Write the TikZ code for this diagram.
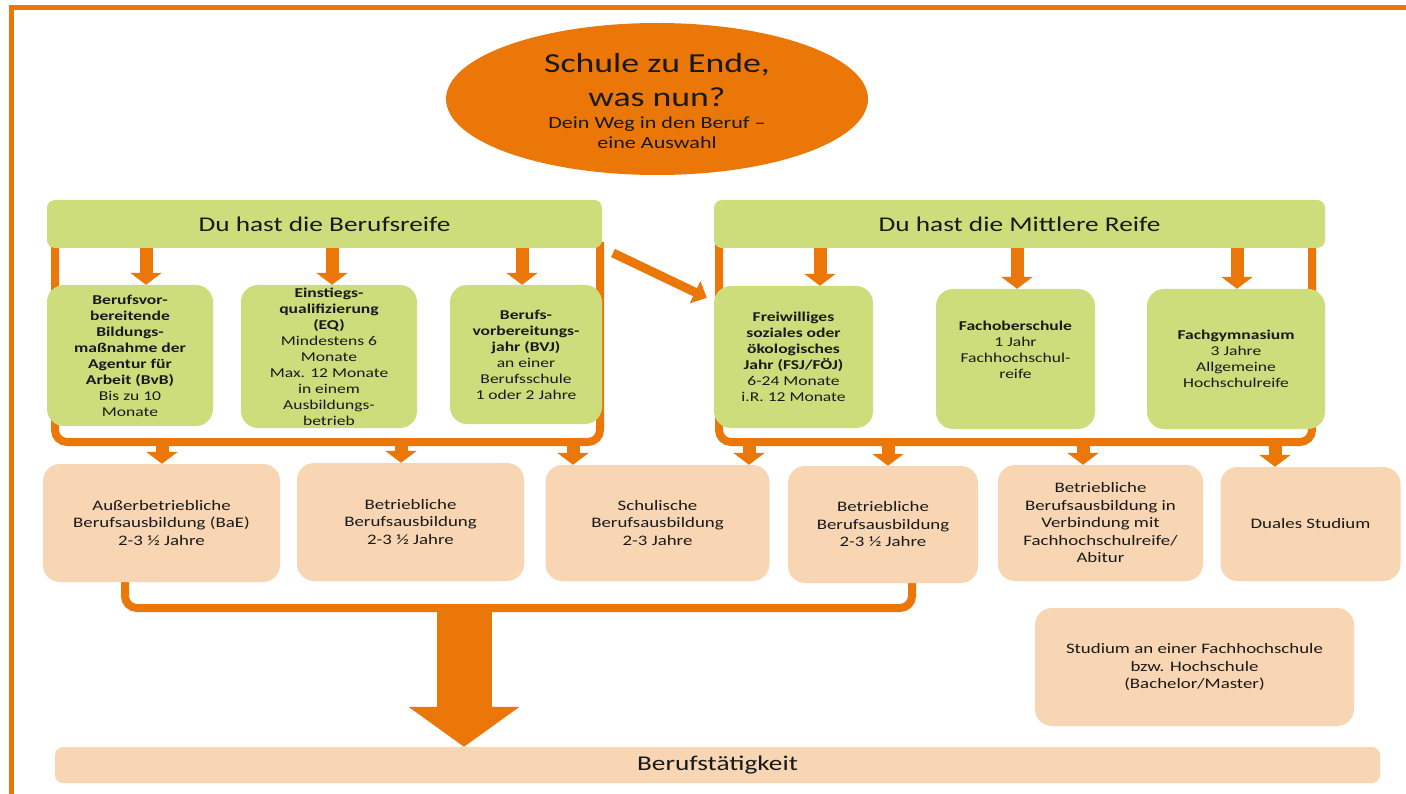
\documentclass[tikz,border=0pt]{standalone}
\usepackage{fontspec}
\setmainfont{Carlito}[FakeStretch=1.3]
\usetikzlibrary{arrows.meta,shapes.geometric}
\pgfdeclarelayer{back}
\pgfdeclarelayer{bg}
\pgfsetlayers{back,bg,main}
\definecolor{org}{RGB}{235,119,8}
\definecolor{grn}{RGB}{206,221,123}
\definecolor{pch}{RGB}{248,214,180}
\definecolor{txt}{RGB}{25,25,25}
\begin{document}
\begin{tikzpicture}[x=1pt,y=-1pt,
  gbox/.style={fill=grn, rounded corners=17pt, align=center, inner sep=0pt, text=txt, font=\fontsize{13.5}{16}\selectfont},
  gtxt/.style={align=center, inner sep=0pt, text=txt, font=\fontsize{13.5}{16}\selectfont},
  pbox/.style={fill=pch, rounded corners=17pt, align=center, inner sep=0pt, text=txt, font=\fontsize{14.5}{17.5}\selectfont},
  hbox/.style={fill=grn, rounded corners=8pt, inner sep=0pt, text=txt, font=\fontsize{21}{25}\selectfont},
  brk/.style={draw=org, line width=8pt, rounded corners=12pt},
  sarr/.style={draw=org, line width=13pt, -{Triangle[width=31pt,length=12pt]}},
  darr/.style={draw=org, line width=9pt, -{Triangle[width=24pt,length=13pt]}},
  bigarr/.style={draw=org, line width=55pt, -{Triangle[width=109pt,length=40pt]}}
]
\useasboundingbox (0,0) rectangle (1406,794);
\begin{pgfonlayer}{back}
\fill[white] (0,0) rectangle (1406,794);
\end{pgfonlayer}
% frame
\fill[org] (9,5) rectangle (1406,10);
\fill[org] (9,5) rectangle (14,794);

% title ellipse
\node[ellipse, fill=org, minimum width=422pt, minimum height=152pt, inner sep=0pt] (top) at (657,99) {};
\node[align=center, inner sep=0pt, text=txt, font=\fontsize{27.5}{34}\selectfont] (t1) at (657,80) {Schule zu Ende,\\was nun?};
\node[align=center, inner sep=0pt, text=txt, font=\fontsize{17}{20.5}\selectfont] (t2) at (657,132.5) {Dein Weg in den Beruf –\\eine Auswahl};

% headers
\node[hbox, minimum width=555pt, minimum height=48pt] (h1) at (324.5,224) {Du hast die Berufsreife};
\node[hbox, minimum width=611pt, minimum height=48pt] (h2) at (1019.5,224) {Du hast die Mittlere Reife};

% green boxes
\node[gbox, minimum width=166pt, minimum height=141pt] (g1) at (130,355.5)
 {\textbf{Berufsvor-}\\\textbf{bereitende}\\\textbf{Bildungs-}\\\textbf{maßnahme der}\\\textbf{Agentur für}\\\textbf{Arbeit (BvB)}\\Bis zu 10\\Monate};
\node[gbox, minimum width=176pt, minimum height=143pt] (g2) at (329,356.5)
 {\textbf{Einstiegs-}\\\textbf{qualifizierung}\\\textbf{(EQ)}\\Mindestens 6\\Monate\\Max. 12 Monate\\in einem\\Ausbildungs-\\betrieb};
\node[gbox, minimum width=152pt, minimum height=139pt] (g3) at (526,354.5)
 {\textbf{Berufs-}\\\textbf{vorbereitungs-}\\\textbf{jahr (BVJ)}\\an einer\\Berufsschule\\1 oder 2 Jahre};
\node[gbox, minimum width=159pt, minimum height=142pt] (g4) at (793.5,357)
 {\textbf{Freiwilliges}\\\textbf{soziales oder}\\\textbf{ökologisches}\\\textbf{Jahr (FSJ/FÖJ)}\\6-24 Monate\\i.R. 12 Monate};
\node[gbox, minimum width=159pt, minimum height=140pt] (g5) at (1015.5,359) {};
\node[gtxt] (g5t) at (1015.5,350) {\textbf{Fachoberschule}\\1 Jahr\\Fachhochschul-\\reife};
\node[gbox, minimum width=178pt, minimum height=140pt] (g6) at (1236,359)
 {\textbf{Fachgymnasium}\\3 Jahre\\Allgemeine\\Hochschulreife};

% peach boxes
\node[pbox, minimum width=237pt, minimum height=118pt] (p1) at (161.5,523) {Außerbetriebliche\\Berufsausbildung (BaE)\\2-3 ½ Jahre};
\node[pbox, minimum width=227pt, minimum height=118pt] (p2) at (410.5,522) {Betriebliche\\Berufsausbildung\\2-3 ½ Jahre};
\node[pbox, minimum width=224pt, minimum height=116pt] (p3) at (657.5,523) {Schulische\\Berufsausbildung\\2-3 Jahre};
\node[pbox, minimum width=190pt, minimum height=117pt] (p4) at (883,524.5) {Betriebliche\\Berufsausbildung\\2-3 ½ Jahre};
\node[pbox, minimum width=205pt, minimum height=116pt] (p5) at (1100.5,523) {Betriebliche\\Berufsausbildung in\\Verbindung mit\\Fachhochschulreife/\\Abitur};
\node[pbox, minimum width=180pt, minimum height=114pt] (p6) at (1310.5,524) {Duales Studium};
\node[pbox, minimum width=319pt, minimum height=118pt] (p7) at (1194.5,667) {Studium an einer Fachhochschule\\bzw. Hochschule\\(Bachelor/Master)};
\node[pbox, rounded corners=8pt, minimum width=1325pt, minimum height=36pt, font=\fontsize{21}{25}\selectfont] (bar) at (717.5,765) {Berufstätigkeit};

% brackets behind the boxes
\begin{pgfonlayer}{bg}
\draw[brk] (55,242) |- (600,442) -- (600,242);
\draw[brk] (719,242) |- (1312,442) -- (1312,242);
\draw[brk] (125,575) |- (912,608) -- (912,575);
\end{pgfonlayer}

% arrows header -> green boxes
\draw[sarr] (146,0 |- h1.south) -- (146,0 |- g1.north);
\draw[sarr] (332,0 |- h1.south) -- (332,0 |- g2.north);
\draw[sarr] (522,0 |- h1.south) -- (522,0 |- g3.north);
\draw[sarr] (820,0 |- h2.south) -- (820,0 |- g4.north);
\draw[sarr] (1017,0 |- h2.south) -- (1017,0 |- g5.north);
\draw[sarr] (1237,0 |- h2.south) -- (1237,0 |- g6.north);

% diagonal arrow
\coordinate (ds) at (613,253);
\draw[darr] (ds) -- ([xshift=-7pt,yshift=-12pt]g4.north west);

% bracket arrows -> peach boxes
\draw[sarr] (162,442) -- (162,0 |- p1.north);
\draw[sarr] (401,442) -- (401,0 |- p2.north);
\draw[sarr] (573,442) -- (573,0 |- p3.north);
\draw[sarr] (749,442) -- (749,0 |- p3.north);
\draw[sarr] (888,442) -- (888,0 |- p4.north);
\draw[sarr] (1083,442) -- (1083,0 |- p5.north);
\draw[sarr] (1275,442) -- (1275,0 |- p6.north);

% big arrow
\draw[bigarr] (464,608) -- (464,0 |- bar.north);
\end{tikzpicture}
\end{document}
